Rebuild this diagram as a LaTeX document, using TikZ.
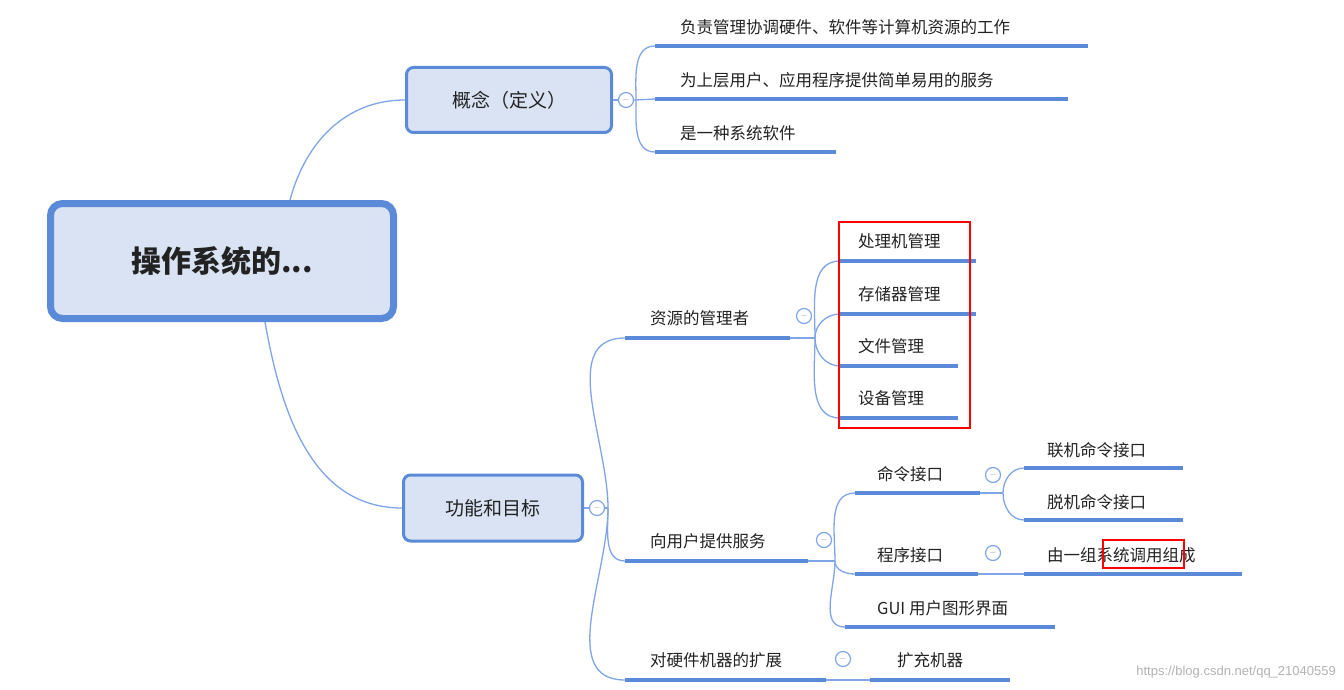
\documentclass[tikz,border=0pt]{standalone}
\usepackage{fontspec}
\setmainfont{Noto Sans CJK SC}
\newfontfamily\wm{Liberation Sans}
\definecolor{bl}{HTML}{5B8AD8}
\definecolor{bll}{HTML}{7FA5E6}
\definecolor{bf}{HTML}{DAE3F3}
\definecolor{tx}{HTML}{222222}
\begin{document}
\begin{tikzpicture}[x=1pt,y=-1pt,
  box/.style={draw=bl,fill=bf,rounded corners=7pt,line width=3pt,text=tx,font=\fontsize{19}{22}\selectfont},
  ul/.style={draw=bl,line width=4pt},
  br/.style={draw=bll,line width=1.3pt},
  lbl/.style={anchor=west,text=tx,font=\fontsize{16.5}{20}\selectfont,inner sep=0pt},
  tog/.style={circle,draw=bll,line width=1.2pt,fill=white,minimum size=15pt,inner sep=0pt,font=\fontsize{9}{9}\selectfont\color{gray},text=gray!80},
  redb/.style={draw=red,line width=2.2pt}]
\useasboundingbox (0,0) rectangle (1344,690);
% root
\node[box,line width=7pt,rounded corners=12pt,minimum width=343pt,minimum height=115pt,font=\fontsize{30}{34}\selectfont\bfseries] (root) at (222,261) {操作系统的...};
\node[box,minimum width=205pt,minimum height=65pt] (gn) at (509,100) {概念（定义）};
\node[box,minimum width=179pt,minimum height=66pt] (gm) at (493,508) {功能和目标};
\coordinate (rt) at (290,200); \coordinate (rb) at (265,322);
\draw[br] (rt) to[out=75,in=180] (gn.west);
\draw[br] (rb) to[out=-80,in=180] (gm.west);
% concept leaves
\node[tog] (c1) at (626,100) {$-$};
\coordinate (p1) at (636,100);
\draw[br] (gn.east) -- (c1);
\foreach \n/\y/\e/\t in {a/46/1088/负责管理协调硬件、软件等计算机资源的工作,b/99/1068/为上层用户、应用程序提供简单易用的服务,c/152/836/是一种系统软件}{
  \coordinate (s\n) at (655,\y); \coordinate (e\n) at (\e,\y);
  \draw[ul] (s\n) -- (e\n);
  \node[lbl] (t\n) at (680,\y-19) {\t};
}
\draw[br] (c1.east) -- (p1) to[out=90,in=180] (sa);
\draw[br] (p1) -- (sb);
\draw[br] (p1) to[out=-90,in=180] (sc);
% function branches
\node[tog] (c2) at (597,508) {$-$};
\draw[br] (gm.east) -- (c2);
\coordinate (p2) at (608,508);
\foreach \n/\y/\e/\t in {d/338/790/资源的管理者,f/561/808/向用户提供服务,g/680/826/对硬件机器的扩展}{
  \coordinate (s\n) at (625,\y); \coordinate (e\n) at (\e,\y);
  \draw[ul] (s\n) -- (e\n);
  \node[lbl] (t\n) at (650,\y-20) {\t};
  \draw[br] (p2) to[out=\ifnum\y<508 90\else -90\fi,in=180] (s\n);
}
\draw[br] (c2.east) -- (p2);
% resource manager
\node[tog] (c3) at (804,316) {$-$};
\coordinate (p3) at (815,338);
\draw[br] (ed) -- (p3);
\foreach \n/\y/\e/\t in {h/261/976/处理机管理,i/314/976/存储器管理,j/366/958/文件管理,k/418/958/设备管理}{
  \coordinate (s\n) at (840,\y); \coordinate (e\n) at (\e,\y);
  \draw[ul] (s\n) -- (e\n);
  \node[lbl] (t\n) at (858,\y-20) {\t};
  \draw[br] (p3) to[out=\ifnum\y<338 90\else -90\fi,in=180] (s\n);
}
\draw[redb] (839,222) rectangle (970,428);
% user services
\node[tog] (c4) at (824,540) {$-$};
\coordinate (p4) at (835,561);
\draw[br] (ef) -- (p4);
\foreach \n/\y/\s/\e/\t in {l/493/855/980/命令接口,m/574/855/978/程序接口,o/627/845/1055/GUI 用户图形界面}{
  \coordinate (s\n) at (\s,\y); \coordinate (e\n) at (\e,\y);
  \draw[ul] (s\n) -- (e\n);
  \node[lbl] (t\n) at (877,\y-19) {\t};
  \draw[br] (p4) to[out=\ifnum\y<561 90\else -90\fi,in=180] (s\n);
}
% command interface
\node[tog] (c5) at (993,475) {$-$};
\coordinate (p5) at (1003,493);
\draw[br] (el) -- (p5);
\foreach \n/\y/\t in {q/468/联机命令接口,r/520/脱机命令接口}{
  \coordinate (s\n) at (1024,\y); \coordinate (e\n) at (1183,\y);
  \draw[ul] (s\n) -- (e\n);
  \node[lbl] (t\n) at (1047,\y-18) {\t};
  \draw[br] (p5) to[out=\ifnum\y<493 90\else -90\fi,in=180] (s\n);
}
% program interface
\node[tog] (c6) at (993,553) {$-$};
\coordinate (ss) at (1024,574); \coordinate (es) at (1242,574);
\draw[ul] (ss) -- (es);
\draw[br] (em) -- (ss);
\node[lbl] (ts) at (1047,555) {由一组系统调用组成};
\draw[redb] (1103,540) rectangle (1184,568);
% hardware extension
\node[tog] (c7) at (843,659) {$-$};
\coordinate (st) at (870,680); \coordinate (et) at (1010,680);
\draw[ul] (st) -- (et);
\draw[br] (eg) -- (st);
\node[lbl] (tt) at (897,660) {扩充机器};
\node[anchor=east,text=gray!60,font=\wm\fontsize{13}{15}\selectfont,inner sep=0pt] (wm) at (1336,672) {https://blog.csdn.net/qq\_21040559};
\end{tikzpicture}
\end{document}
